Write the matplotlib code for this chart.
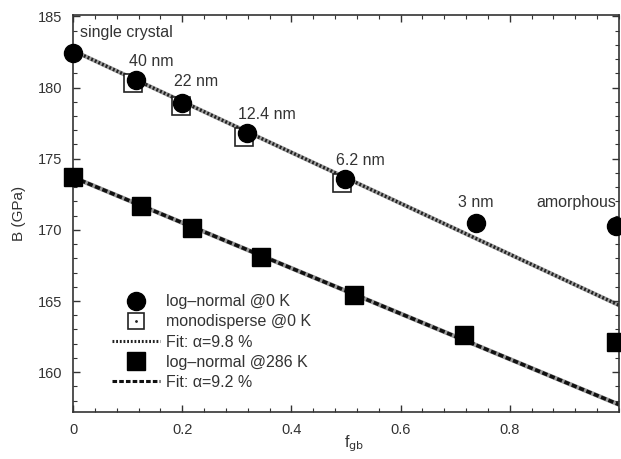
import numpy as np
import matplotlib
matplotlib.use("Agg")
import matplotlib.pyplot as plt
from matplotlib.ticker import MultipleLocator
from matplotlib.lines import Line2D

plt.rcParams['font.family'] = ['Liberation Sans', 'DejaVu Sans']

# log-normal @ 0 K
f_ln0 = [0.0, 0.115, 0.20, 0.318, 0.498, 0.738, 0.995]
B_ln0 = [182.4, 180.5, 178.9, 176.8, 173.6, 170.5, 170.3]
labels_ln0 = ["single crystal", "40 nm", "22 nm", "12.4 nm", "6.2 nm", "3 nm", "amorphous"]

# monodisperse @ 0 K
f_mono = [0.11, 0.198, 0.314, 0.492]
B_mono = [180.3, 178.7, 176.5, 173.3]

# log-normal @ 286 K
f_ln286 = [0.0, 0.125, 0.218, 0.345, 0.515, 0.716, 0.995]
B_ln286 = [173.7, 171.7, 170.1, 168.1, 165.4, 162.6, 162.1]

# fits B = B0 * (1 - alpha * f)
B0_fit1, alpha1 = 182.6, 0.098
B0_fit2, alpha2 = 173.7, 0.092

fig = plt.figure(figsize=(6.21, 4.59), dpi=100)
ax = fig.add_axes([73/621, 1 - 412/459, (619 - 73)/621, (412 - 15)/459])

txtc = '#333333'
fx = np.array([0.0, 1.0])
# fit 1 (dotted)
ax.plot(fx, B0_fit1 * (1 - alpha1 * fx), color='#a0a0a0', lw=3.0, zorder=1)
ax.plot(fx, B0_fit1 * (1 - alpha1 * fx), color='#222222', lw=2.4,
        linestyle=(0, (0.6, 0.6)), zorder=2)
# fit 2 (dashed)
ax.plot(fx, B0_fit2 * (1 - alpha2 * fx), color='#9a9a9a', lw=3.2, zorder=1)
ax.plot(fx, B0_fit2 * (1 - alpha2 * fx), color='#111111', lw=2.6,
        linestyle=(0, (1.5, 0.7)), zorder=2)

ax.plot(f_mono, B_mono, linestyle='none', marker='s', ms=12.5, mfc='white',
        mec='#222222', mew=1.2, zorder=3)
ax.plot(f_ln0, B_ln0, linestyle='none', marker='o', ms=13, color='black',
        zorder=4, clip_on=False)
ax.plot(f_ln286, B_ln286, linestyle='none', marker='s', ms=13, color='black',
        zorder=4, clip_on=False)

# annotations
ann_pos = [(0.013, 183.9), (0.103, 181.8), (0.185, 180.4), (0.303, 178.1),
           (0.481, 174.9), (0.705, 171.9), (0.848, 171.9)]
for (x, y), t in zip(ann_pos, labels_ln0):
    ax.text(x, y, t, fontsize=11.5, color=txtc, ha='left', va='center', clip_on=False)

# legend
h1 = Line2D([], [], linestyle='none', marker='o', ms=13, color='black')
h2a = Line2D([], [], linestyle='none', marker='s', ms=11, mfc='white', mec='#222222', mew=1.2)
h2b = Line2D([], [], linestyle='none', marker='.', ms=2, color='#222222')
h3 = Line2D([], [], color='#222222', lw=2.2, linestyle=(0, (0.6, 0.6)))
h4 = Line2D([], [], linestyle='none', marker='s', ms=13, color='black')
h5 = Line2D([], [], color='#111111', lw=2.2, linestyle=(0, (1.5, 0.7)))
leg = ax.legend([h1, (h2a, h2b), h3, h4, h5],
                ["log\u2013normal @0 K", "monodisperse @0 K", "Fit: \u03b1=9.8 %",
                 "log\u2013normal @286 K", "Fit: \u03b1=9.2 %"],
                loc='lower left', bbox_to_anchor=(0.06, 0.04), frameon=False,
                fontsize=11.5, handlelength=3.0, handletextpad=0.4,
                labelspacing=0.32, borderaxespad=0)
for t in leg.get_texts():
    t.set_color(txtc)

ax.set_xlim(0, 1.0)
ax.set_ylim(157.2, 185.1)
ax.xaxis.set_minor_locator(MultipleLocator(0.04))
ax.yaxis.set_major_locator(MultipleLocator(5))
ax.yaxis.set_minor_locator(MultipleLocator(1))
ax.set_xticks([0, 0.2, 0.4, 0.6, 0.8])
ax.set_xticklabels(['0', '0.2', '0.4', '0.6', '0.8'])
ax.tick_params(which='both', direction='in', top=True, right=True, colors='#333333',
               labelsize=10.5, labelcolor=txtc)
ax.tick_params(which='major', length=5, width=1)
ax.tick_params(which='minor', length=3, width=0.8)
ax.tick_params(axis='y', pad=8)
ax.tick_params(axis='x', pad=8)
for s in ax.spines.values():
    s.set_linewidth(1.2)
    s.set_color('#333333')

ax.set_ylabel('B (GPa)', fontsize=11, color=txtc, labelpad=8)
ax.set_xlabel('f$_{\\mathrm{gb}}$', fontsize=11.5, color=txtc, labelpad=1)
ax.xaxis.set_label_coords(0.515, -0.055)

fig.savefig('out.png', dpi=100)
